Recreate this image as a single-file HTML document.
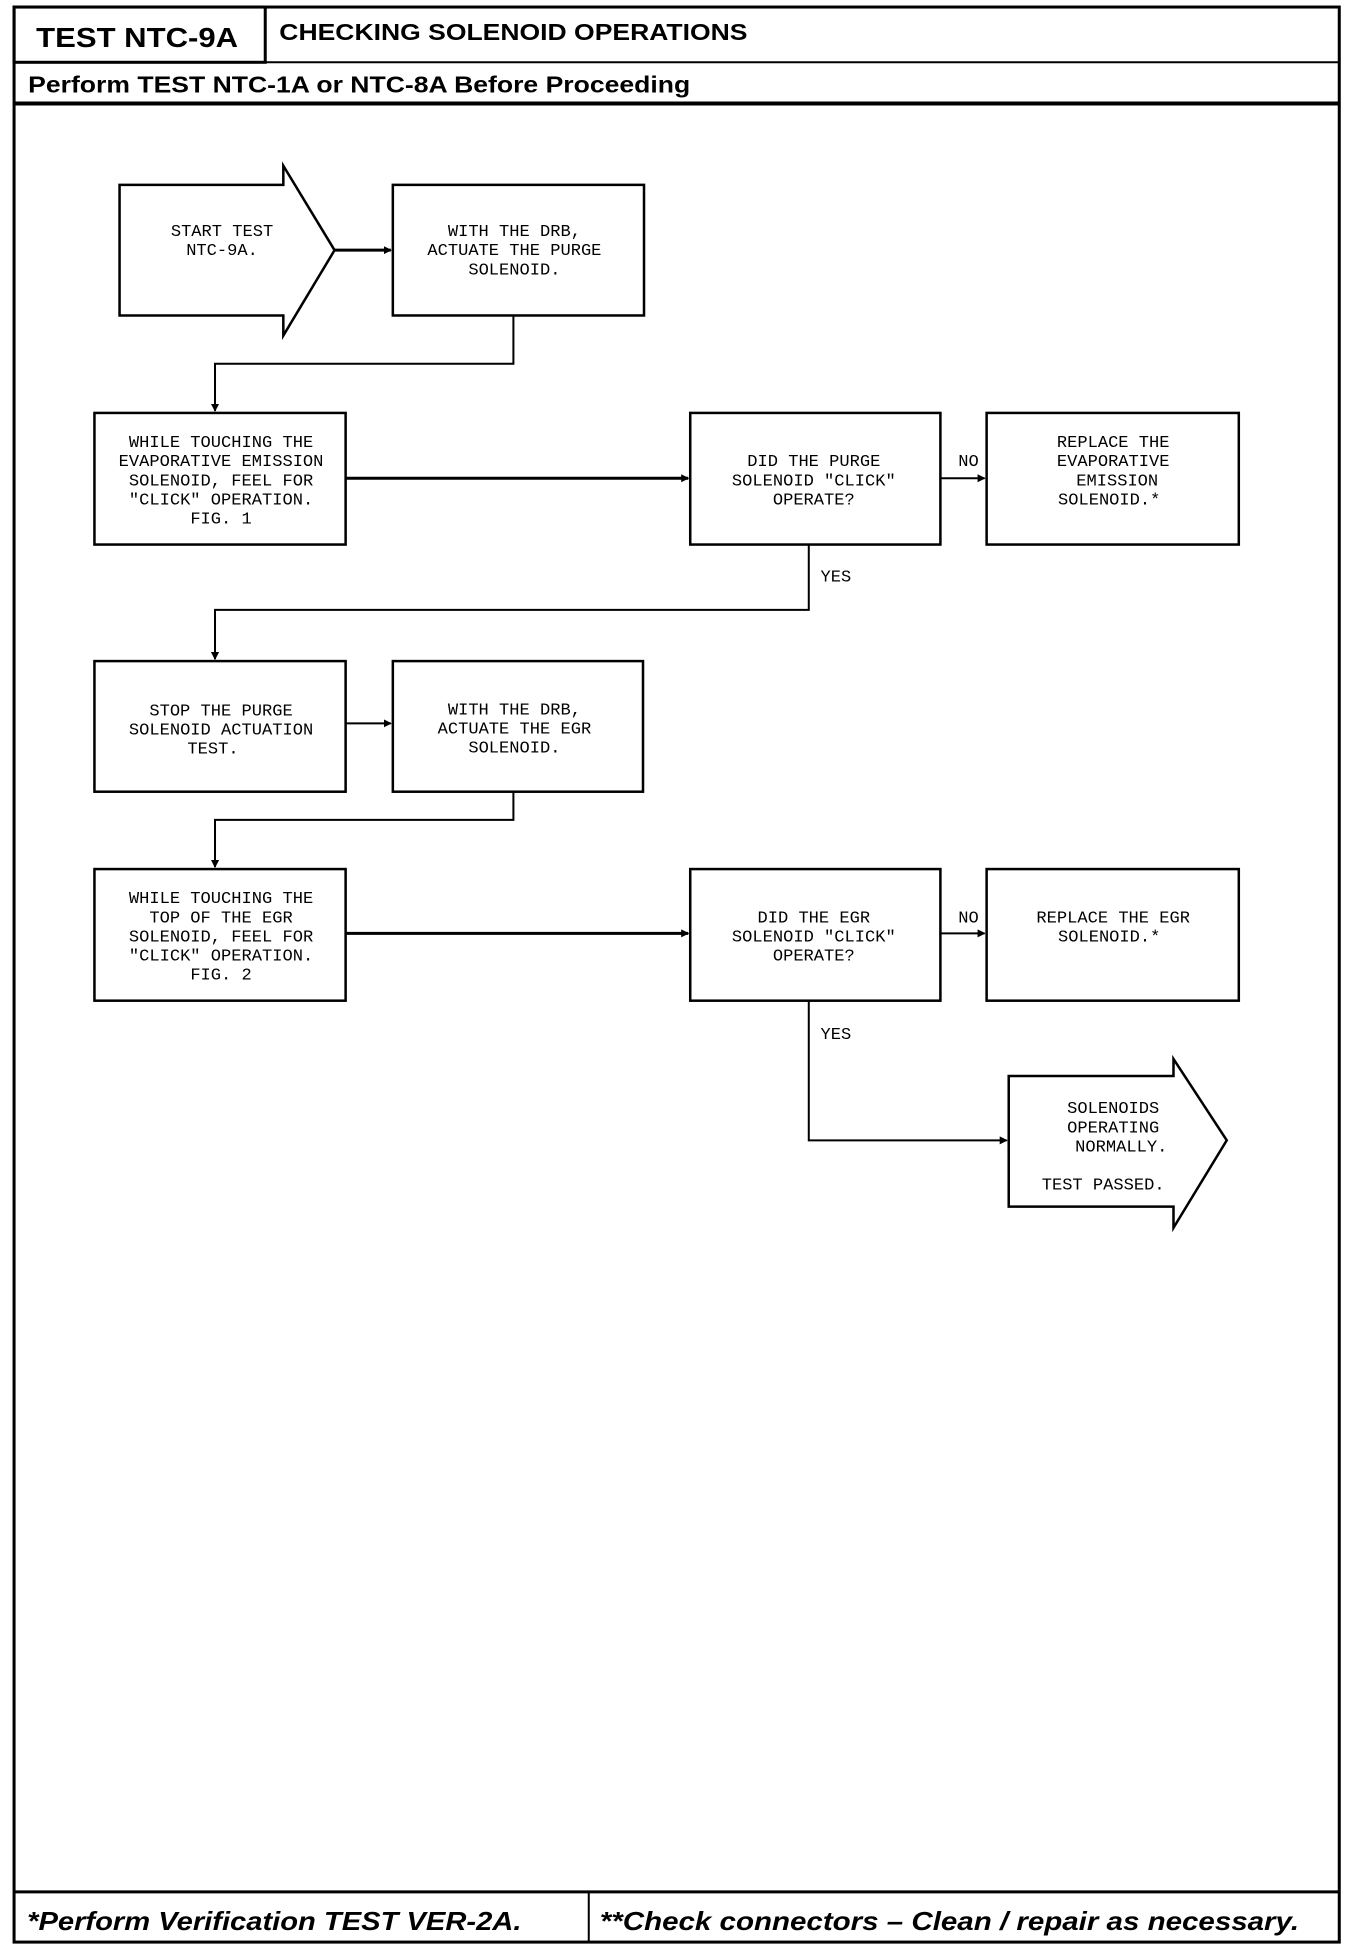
<!DOCTYPE html>
<html><head><meta charset="utf-8"><style>
html,body{margin:0;padding:0;background:#fff;}
svg{display:block;}
.t{font-family:"Liberation Mono",monospace;font-size:17px;text-anchor:middle;fill:#000;}
.h{font-family:"Liberation Sans",sans-serif;font-weight:bold;fill:#000;}
</style></head><body>
<svg width="1360" height="1948" viewBox="0 0 1360 1948" xmlns="http://www.w3.org/2000/svg">
<defs><marker id="a" markerWidth="8" markerHeight="8" refX="7" refY="4" orient="auto" markerUnits="userSpaceOnUse"><path d="M0,0 L8,4 L0,8 z" fill="#000"/></marker></defs>
<g transform="scale(1.0047)">
<g fill="none" stroke="#000">
<rect x="14" y="7" width="1319" height="1926" stroke-width="3"/>
<rect x="14" y="7" width="250" height="55" stroke-width="3"/>
<line x1="14" y1="62" x2="1333" y2="62" stroke-width="2"/>
<line x1="14" y1="103" x2="1333" y2="103" stroke-width="4"/>
<line x1="14" y1="1883" x2="1333" y2="1883" stroke-width="3"/>
<line x1="586" y1="1883" x2="586" y2="1933" stroke-width="2"/>
<g stroke-width="2.5">
<path d="M119,184 H282 V165 L333,249 L282,334 V314 H119 Z"/>
<rect x="391" y="184" width="250" height="130"/>
<rect x="94" y="411" width="250" height="131"/>
<rect x="687" y="411" width="249" height="131"/>
<rect x="982" y="411" width="251" height="131"/>
<rect x="94" y="658" width="250" height="130"/>
<rect x="391" y="658" width="249" height="130"/>
<rect x="94" y="865" width="250" height="131"/>
<rect x="687" y="865" width="249" height="131"/>
<rect x="982" y="865" width="251" height="131"/>
<path d="M1004,1071 H1168 V1054 L1221,1135 L1168,1222 V1201 H1004 Z"/>
</g>
<g stroke-width="2">
<line x1="333" y1="249" x2="389" y2="249" stroke-width="3" marker-end="url(#a)"/>
<polyline points="511,314 511,362 214,362 214,409" marker-end="url(#a)"/>
<line x1="344" y1="476" x2="685" y2="476" stroke-width="3" marker-end="url(#a)"/>
<line x1="936" y1="476" x2="980" y2="476" marker-end="url(#a)"/>
<polyline points="805,542 805,607 214,607 214,656" marker-end="url(#a)"/>
<line x1="344" y1="720" x2="389" y2="720" marker-end="url(#a)"/>
<polyline points="511,788 511,816 214,816 214,863" marker-end="url(#a)"/>
<line x1="344" y1="929" x2="685" y2="929" stroke-width="3" marker-end="url(#a)"/>
<line x1="936" y1="929" x2="980" y2="929" marker-end="url(#a)"/>
<polyline points="805,996 805,1135 1002,1135" marker-end="url(#a)"/>
</g>
</g>
<text class="h" x="36" y="47" font-size="28" textLength="201" lengthAdjust="spacingAndGlyphs">TEST NTC-9A</text>
<text class="h" x="278" y="40" font-size="23" textLength="466" lengthAdjust="spacingAndGlyphs">CHECKING SOLENOID OPERATIONS</text>
<text class="h" x="28" y="92" font-size="23" textLength="659" lengthAdjust="spacingAndGlyphs">Perform TEST NTC-1A or NTC-8A Before Proceeding</text>
<text class="h" x="27" y="1921" font-size="26" font-style="italic" textLength="492" lengthAdjust="spacingAndGlyphs">*Perform Verification TEST VER-2A.</text>
<text class="h" x="597" y="1921" font-size="26" font-style="italic" textLength="696" lengthAdjust="spacingAndGlyphs">**Check connectors – Clean / repair as necessary.</text>
<g class="t">
<text x="221" y="235">START TEST</text><text x="221" y="254">NTC-9A.</text>
<text x="512" y="235">WITH THE DRB,</text><text x="512" y="254">ACTUATE THE PURGE</text><text x="512" y="273">SOLENOID.</text>
<text x="220" y="445">WHILE TOUCHING THE</text><text x="220" y="464">EVAPORATIVE EMISSION</text><text x="220" y="483">SOLENOID, FEEL FOR</text><text x="220" y="502">"CLICK" OPERATION.</text><text x="220" y="521">FIG. 1</text>
<text x="810" y="464">DID THE PURGE</text><text x="810" y="483">SOLENOID "CLICK"</text><text x="810" y="502">OPERATE?</text>
<text x="1108" y="445">REPLACE THE</text><text x="1108" y="464">EVAPORATIVE</text><text x="1112" y="483">EMISSION</text><text x="1104" y="502">SOLENOID.*</text>
<text x="964" y="464">NO</text><text x="832" y="579">YES</text>
<text x="220" y="712">STOP THE PURGE</text><text x="220" y="731">SOLENOID ACTUATION</text><text x="212" y="750">TEST.</text>
<text x="512" y="711">WITH THE DRB,</text><text x="512" y="730">ACTUATE THE EGR</text><text x="512" y="749">SOLENOID.</text>
<text x="220" y="899">WHILE TOUCHING THE</text><text x="220" y="918">TOP OF THE EGR</text><text x="220" y="937">SOLENOID, FEEL FOR</text><text x="220" y="956">"CLICK" OPERATION.</text><text x="220" y="975">FIG. 2</text>
<text x="810" y="918">DID THE EGR</text><text x="810" y="937">SOLENOID "CLICK"</text><text x="810" y="956">OPERATE?</text>
<text x="1108" y="918">REPLACE THE EGR</text><text x="1104" y="937">SOLENOID.*</text>
<text x="964" y="918">NO</text><text x="832" y="1034">YES</text>
<text x="1108" y="1108">SOLENOIDS</text><text x="1108" y="1127">OPERATING</text><text x="1116" y="1146">NORMALLY.</text><text x="1098" y="1184">TEST PASSED.</text>
</g>
</g>
</svg>
</body></html>
